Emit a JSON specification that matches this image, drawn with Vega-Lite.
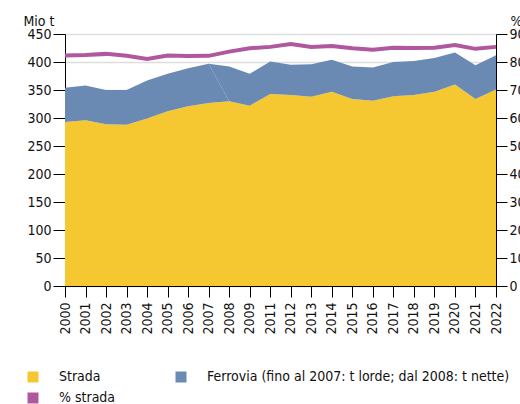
{
  "$schema": "https://vega.github.io/schema/vega-lite/v6.json",
  "width": 431,
  "height": 252,
  "autosize": "none",
  "padding": {"left": 65, "top": 34, "right": 24, "bottom": 118},
  "background": "white",
  "config": {
    "view": {"stroke": null},
    "font": "DejaVu Sans Condensed, Liberation Sans",
    "axis": {"labelFont": "DejaVu Sans Condensed, Liberation Sans", "titleFont": "DejaVu Sans Condensed, Liberation Sans", "labelFontSize": 14, "titleFontSize": 14, "titleFontWeight": "normal", "labelColor": "#111", "titleColor": "#111", "domainColor": "#000", "tickColor": "#000"},
    "legend": {"labelFont": "DejaVu Sans Condensed, Liberation Sans", "labelFontSize": 14, "labelColor": "#111", "labelLimit": 400}
  },
  "datasets": {
    "flussi": [
      {"anno": "2000", "serie": "Strada", "tipo": "s", "ord": 0, "valore": 293},
      {"anno": "2001", "serie": "Strada", "tipo": "s", "ord": 0, "valore": 296},
      {"anno": "2002", "serie": "Strada", "tipo": "s", "ord": 0, "valore": 289},
      {"anno": "2003", "serie": "Strada", "tipo": "s", "ord": 0, "valore": 288},
      {"anno": "2004", "serie": "Strada", "tipo": "s", "ord": 0, "valore": 299},
      {"anno": "2005", "serie": "Strada", "tipo": "s", "ord": 0, "valore": 312},
      {"anno": "2006", "serie": "Strada", "tipo": "s", "ord": 0, "valore": 321},
      {"anno": "2007", "serie": "Strada", "tipo": "s", "ord": 0, "valore": 327},
      {"anno": "2008", "serie": "Strada", "tipo": "s", "ord": 0, "valore": 330},
      {"anno": "2009", "serie": "Strada", "tipo": "s", "ord": 0, "valore": 322},
      {"anno": "2011", "serie": "Strada", "tipo": "s", "ord": 0, "valore": 343},
      {"anno": "2012", "serie": "Strada", "tipo": "s", "ord": 0, "valore": 341},
      {"anno": "2013", "serie": "Strada", "tipo": "s", "ord": 0, "valore": 338},
      {"anno": "2014", "serie": "Strada", "tipo": "s", "ord": 0, "valore": 347},
      {"anno": "2015", "serie": "Strada", "tipo": "s", "ord": 0, "valore": 334},
      {"anno": "2016", "serie": "Strada", "tipo": "s", "ord": 0, "valore": 331},
      {"anno": "2017", "serie": "Strada", "tipo": "s", "ord": 0, "valore": 339},
      {"anno": "2018", "serie": "Strada", "tipo": "s", "ord": 0, "valore": 341},
      {"anno": "2019", "serie": "Strada", "tipo": "s", "ord": 0, "valore": 347},
      {"anno": "2020", "serie": "Strada", "tipo": "s", "ord": 0, "valore": 360},
      {"anno": "2021", "serie": "Strada", "tipo": "s", "ord": 0, "valore": 334},
      {"anno": "2022", "serie": "Strada", "tipo": "s", "ord": 0, "valore": 351},
      {"anno": "2000", "serie": "Ferrovia (fino al 2007: t lorde; dal 2008: t nette)", "tipo": "lorde", "ord": 1, "valore": 61},
      {"anno": "2001", "serie": "Ferrovia (fino al 2007: t lorde; dal 2008: t nette)", "tipo": "lorde", "ord": 1, "valore": 62},
      {"anno": "2002", "serie": "Ferrovia (fino al 2007: t lorde; dal 2008: t nette)", "tipo": "lorde", "ord": 1, "valore": 61},
      {"anno": "2003", "serie": "Ferrovia (fino al 2007: t lorde; dal 2008: t nette)", "tipo": "lorde", "ord": 1, "valore": 62},
      {"anno": "2004", "serie": "Ferrovia (fino al 2007: t lorde; dal 2008: t nette)", "tipo": "lorde", "ord": 1, "valore": 68},
      {"anno": "2005", "serie": "Ferrovia (fino al 2007: t lorde; dal 2008: t nette)", "tipo": "lorde", "ord": 1, "valore": 67},
      {"anno": "2006", "serie": "Ferrovia (fino al 2007: t lorde; dal 2008: t nette)", "tipo": "lorde", "ord": 1, "valore": 68},
      {"anno": "2007", "serie": "Ferrovia (fino al 2007: t lorde; dal 2008: t nette)", "tipo": "lorde", "ord": 1, "valore": 70},
      {"anno": "2008", "serie": "Ferrovia (fino al 2007: t lorde; dal 2008: t nette)", "tipo": "lorde", "ord": 1, "valore": 0},
      {"anno": "2007", "serie": "Ferrovia (fino al 2007: t lorde; dal 2008: t nette)", "tipo": "nette", "ord": 2, "valore": 0},
      {"anno": "2008", "serie": "Ferrovia (fino al 2007: t lorde; dal 2008: t nette)", "tipo": "nette", "ord": 2, "valore": 62},
      {"anno": "2009", "serie": "Ferrovia (fino al 2007: t lorde; dal 2008: t nette)", "tipo": "nette", "ord": 2, "valore": 57},
      {"anno": "2011", "serie": "Ferrovia (fino al 2007: t lorde; dal 2008: t nette)", "tipo": "nette", "ord": 2, "valore": 58},
      {"anno": "2012", "serie": "Ferrovia (fino al 2007: t lorde; dal 2008: t nette)", "tipo": "nette", "ord": 2, "valore": 54},
      {"anno": "2013", "serie": "Ferrovia (fino al 2007: t lorde; dal 2008: t nette)", "tipo": "nette", "ord": 2, "valore": 58},
      {"anno": "2014", "serie": "Ferrovia (fino al 2007: t lorde; dal 2008: t nette)", "tipo": "nette", "ord": 2, "valore": 57},
      {"anno": "2015", "serie": "Ferrovia (fino al 2007: t lorde; dal 2008: t nette)", "tipo": "nette", "ord": 2, "valore": 58},
      {"anno": "2016", "serie": "Ferrovia (fino al 2007: t lorde; dal 2008: t nette)", "tipo": "nette", "ord": 2, "valore": 59},
      {"anno": "2017", "serie": "Ferrovia (fino al 2007: t lorde; dal 2008: t nette)", "tipo": "nette", "ord": 2, "valore": 61},
      {"anno": "2018", "serie": "Ferrovia (fino al 2007: t lorde; dal 2008: t nette)", "tipo": "nette", "ord": 2, "valore": 61},
      {"anno": "2019", "serie": "Ferrovia (fino al 2007: t lorde; dal 2008: t nette)", "tipo": "nette", "ord": 2, "valore": 60},
      {"anno": "2020", "serie": "Ferrovia (fino al 2007: t lorde; dal 2008: t nette)", "tipo": "nette", "ord": 2, "valore": 57},
      {"anno": "2021", "serie": "Ferrovia (fino al 2007: t lorde; dal 2008: t nette)", "tipo": "nette", "ord": 2, "valore": 60},
      {"anno": "2022", "serie": "Ferrovia (fino al 2007: t lorde; dal 2008: t nette)", "tipo": "nette", "ord": 2, "valore": 61}
    ],
    "quota": [
      {"anno": "2000", "serie": "% strada", "pct": 82.3},
      {"anno": "2001", "serie": "% strada", "pct": 82.5},
      {"anno": "2002", "serie": "% strada", "pct": 82.9},
      {"anno": "2003", "serie": "% strada", "pct": 82.2},
      {"anno": "2004", "serie": "% strada", "pct": 81.1},
      {"anno": "2005", "serie": "% strada", "pct": 82.3},
      {"anno": "2006", "serie": "% strada", "pct": 82.1},
      {"anno": "2007", "serie": "% strada", "pct": 82.2},
      {"anno": "2008", "serie": "% strada", "pct": 83.7},
      {"anno": "2009", "serie": "% strada", "pct": 84.9},
      {"anno": "2011", "serie": "% strada", "pct": 85.4},
      {"anno": "2012", "serie": "% strada", "pct": 86.4},
      {"anno": "2013", "serie": "% strada", "pct": 85.4},
      {"anno": "2014", "serie": "% strada", "pct": 85.7},
      {"anno": "2015", "serie": "% strada", "pct": 84.9},
      {"anno": "2016", "serie": "% strada", "pct": 84.4},
      {"anno": "2017", "serie": "% strada", "pct": 85.1},
      {"anno": "2018", "serie": "% strada", "pct": 85.0},
      {"anno": "2019", "serie": "% strada", "pct": 85.1},
      {"anno": "2020", "serie": "% strada", "pct": 86.1},
      {"anno": "2021", "serie": "% strada", "pct": 84.7},
      {"anno": "2022", "serie": "% strada", "pct": 85.4}
    ]
  },
  "encoding": {
    "x": {
      "field": "anno", "type": "ordinal", "sort": "ascending",
      "scale": {"padding": 0},
      "axis": {"title": null, "labelAngle": -90, "tickSize": 11, "labelPadding": 5, "domainColor": "#000", "labelFontSize": 14}
    }
  },
  "layer": [
    {
      "data": {"name": "flussi"},
      "mark": {"type": "area", "opacity": 1},
      "encoding": {
        "y": {
          "field": "valore", "type": "quantitative", "stack": "zero",
          "scale": {"domain": [0, 450], "nice": false},
          "axis": {"values": [0, 50, 100, 150, 200, 250, 300, 350, 400, 450], "tickSize": 12, "labelPadding": 2, "grid": true, "gridColor": "#dddddd", "gridWidth": 1.5, "title": "Mio t", "titleAngle": 0, "titleAlign": "left", "titleBaseline": "alphabetic", "titleX": -42, "titleY": -9}
        },
        "color": {
          "field": "serie", "type": "nominal",
          "scale": {"domain": ["Strada", "Ferrovia (fino al 2007: t lorde; dal 2008: t nette)", "% strada"], "range": ["#f5c832", "#6a8ab3", "#af589f"]},
          "legend": {"title": null, "orient": "none", "legendX": -39, "legendY": 336, "direction": "horizontal", "columns": 2, "symbolType": "square", "symbolSize": 121, "symbolStrokeWidth": 0, "labelOffset": 19, "rowPadding": 7, "columnPadding": 58, "padding": 0, "labelLimit": 400}
        },
        "detail": {"field": "tipo"},
        "order": {"field": "ord", "type": "quantitative"}
      }
    },
    {
      "data": {"name": "quota"},
      "mark": {"type": "line", "strokeWidth": 4},
      "encoding": {
        "y": {
          "field": "pct", "type": "quantitative",
          "scale": {"domain": [0, 90], "nice": false},
          "axis": {"orient": "right", "values": [0, 10, 20, 30, 40, 50, 60, 70, 80, 90], "tickSize": 11, "labelPadding": 2, "grid": false, "title": "%", "titleAngle": 0, "titleAlign": "left", "titleBaseline": "alphabetic", "titleX": 14, "titleY": -9}
        },
        "color": {"field": "serie", "type": "nominal"}
      }
    }
  ],
  "resolve": {"scale": {"y": "independent"}}
}
